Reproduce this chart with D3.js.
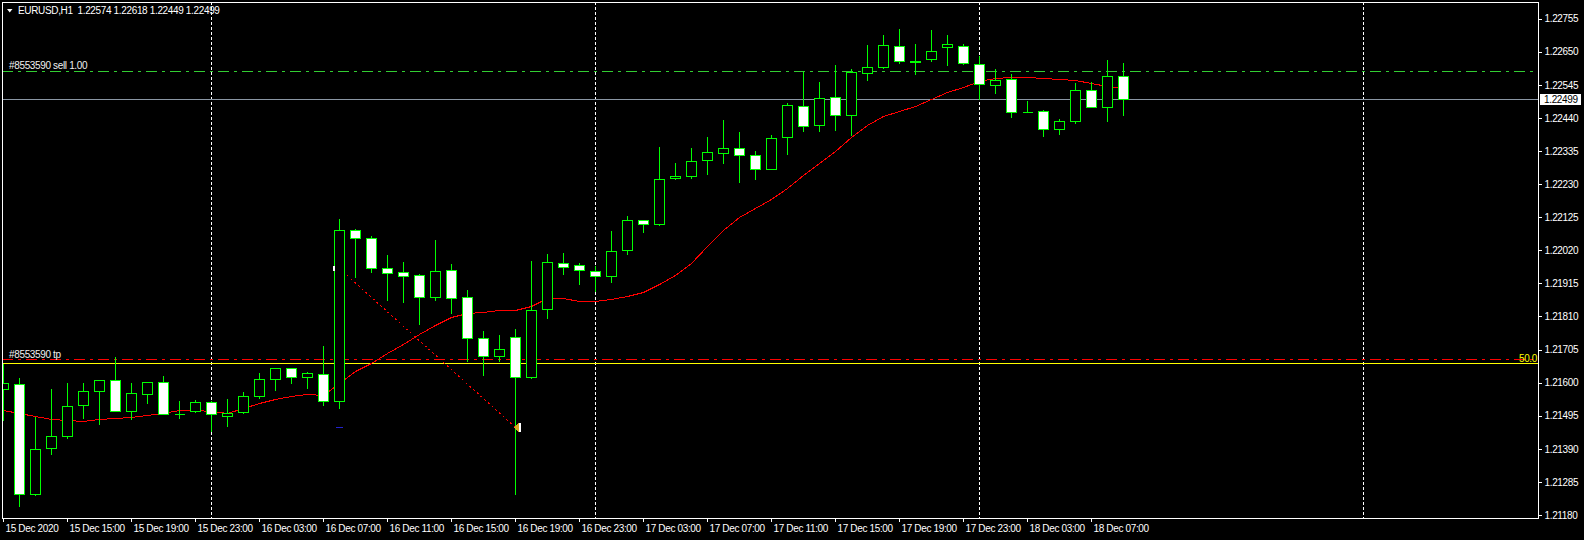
<!DOCTYPE html>
<html><head><meta charset="utf-8">
<script src="https://cdn.jsdelivr.net/npm/d3@7"></script>
<style>
html,body{margin:0;padding:0;background:#000;overflow:hidden;}
svg{display:block;}
text{font-family:"Liberation Sans",Arial,sans-serif;font-size:10px;letter-spacing:-0.35px;}
</style></head><body>
<svg id="c" width="1584" height="540"></svg>
<script>
// ---------- data ----------
const symbolTitle = "EURUSD,H1  1.22574 1.22618 1.22449 1.22499";
const startTime = new Date(2020, 11, 15, 11, 0);   // first visible bar
const opens  = [1.21581,1.21597,1.21247,1.21394,1.21431,1.21529,1.21574,1.21607,1.21511,1.21565,
                1.21603,1.21501,1.21511,1.21540,1.21494,1.21507,1.21558,1.21613,1.21645,1.21619,
                1.21626,1.21542,1.22085,1.22060,1.21965,1.21950,1.21942,1.21872,1.21958,1.21873,
                1.21743,1.21683,1.21746,1.21618,1.21835,1.21981,1.21974,1.21955,1.21939,1.22022,
                1.22117,1.22103,1.22249,1.22255,1.22307,1.22329,1.22345,1.22323,1.22279,1.22380,
                1.22478,1.22418,1.22507,1.22450,1.22583,1.22602,1.22668,1.22622,1.22627,1.22665,
                1.22668,1.22611,1.22545,1.22564,1.22460,1.22462,1.22405,1.22431,1.22529,1.22475,
                1.22574];
const highs  = [1.21662,1.21618,1.21495,1.21584,1.21603,1.21601,1.21611,1.21683,1.21603,1.21605,
                1.21623,1.21544,1.21547,1.21545,1.21550,1.21573,1.21634,1.21647,1.21649,1.21638,
                1.21718,1.22121,1.22092,1.22067,1.22007,1.21985,1.21947,1.22057,1.21981,1.21896,
                1.21766,1.21753,1.21775,1.21988,1.22013,1.22016,1.21982,1.21972,1.22086,1.22131,
                1.22120,1.22352,1.22299,1.22349,1.22384,1.22438,1.22400,1.22337,1.22390,1.22490,
                1.22589,1.22558,1.22612,1.22599,1.22676,1.22707,1.22726,1.22679,1.22723,1.22707,
                1.22679,1.22641,1.22599,1.22583,1.22498,1.22470,1.22440,1.22555,1.22558,1.22627,
                1.22618];
const lows   = [1.21482,1.21210,1.21245,1.21373,1.21424,1.21487,1.21468,1.21511,1.21486,1.21535,
                1.21502,1.21488,1.21508,1.21447,1.21463,1.21505,1.21550,1.21576,1.21600,1.21583,
                1.21529,1.21519,1.21935,1.21951,1.21862,1.21856,1.21785,1.21862,1.21820,1.21669,
                1.21624,1.21669,1.21247,1.21614,1.21805,1.21944,1.21912,1.21890,1.21919,1.22008,
                1.22078,1.22100,1.22245,1.22249,1.22261,1.22296,1.22236,1.22246,1.22279,1.22325,
                1.22398,1.22398,1.22401,1.22385,1.22559,1.22600,1.22616,1.22578,1.22620,1.22607,
                1.22610,1.22500,1.22518,1.22443,1.22460,1.22382,1.22388,1.22423,1.22475,1.22429,
                1.22449];
const closes = [1.21600,1.21247,1.21390,1.21432,1.21527,1.21572,1.21607,1.21511,1.21568,1.21603,
                1.21502,1.21499,1.21540,1.21499,1.21505,1.21559,1.21613,1.21645,1.21619,1.21630,
                1.21543,1.22085,1.22060,1.21965,1.21949,1.21938,1.21873,1.21955,1.21870,1.21743,
                1.21686,1.21708,1.21619,1.21832,1.21984,1.21967,1.21958,1.21939,1.22019,1.22117,
                1.22104,1.22247,1.22257,1.22304,1.22332,1.22346,1.22323,1.22279,1.22377,1.22481,
                1.22415,1.22504,1.22450,1.22586,1.22602,1.22672,1.22620,1.22619,1.22651,1.22675,
                1.22615,1.22548,1.22561,1.22459,1.22460,1.22405,1.22431,1.22529,1.22475,1.22573,
                1.22499];
const maValues = [1.21514,1.21503,1.21493,1.21484,1.21480,1.21479,1.21485,1.21488,1.21490,1.21496,
                  1.21505,1.21513,1.21513,1.21511,1.21505,1.21520,1.21535,1.21549,1.21558,1.21564,
                  1.21562,1.21600,1.21638,1.21662,1.21695,1.21724,1.21754,1.21784,1.21809,1.21820,
                  1.21825,1.21830,1.21832,1.21844,1.21868,1.21868,1.21860,1.21859,1.21865,1.21874,
                  1.21887,1.21912,1.21941,1.21981,1.22035,1.22084,1.22125,1.22154,1.22182,1.22219,
                  1.22260,1.22298,1.22336,1.22380,1.22419,1.22447,1.22461,1.22477,1.22500,1.22522,
                  1.22539,1.22557,1.22568,1.22571,1.22571,1.22567,1.22564,1.22559,1.22552,1.22542,
                  1.22536];
const priceTicks = [1.22755,1.22650,1.22545,1.22440,1.22335,1.22230,1.22125,1.22020,
                    1.21915,1.21810,1.21705,1.21600,1.21495,1.21390,1.21285,1.21180];
const timeTickLabels = ["15 Dec 2020","15 Dec 15:00","15 Dec 19:00","15 Dec 23:00","16 Dec 03:00",
                        "16 Dec 07:00","16 Dec 11:00","16 Dec 15:00","16 Dec 19:00","16 Dec 23:00",
                        "17 Dec 03:00","17 Dec 07:00","17 Dec 11:00","17 Dec 15:00","17 Dec 19:00",
                        "17 Dec 23:00","18 Dec 03:00","18 Dec 07:00"];
const daySeparators = [new Date(2020,11,16,0), new Date(2020,11,17,0), new Date(2020,11,18,0), new Date(2020,11,19,0)];
const sellLevel = 1.22590, sellLabel = "#8553590 sell 1.00";
const tpLevel = 1.21675, tpLabel = "#8553590 tp", tpText = "50.0";
const hLineLevel = 1.21662;
const bidPrice = 1.22499;
const tradeOpen = {bar: 21, price: 1.21965}, tradeClose = {bar: 32, price: 1.21460};

// ---------- layout ----------
const L = 2, T = 2, R = 1538, B = 518;
const svg = d3.select("#c");
svg.append("rect").attr("width",1584).attr("height",540).attr("fill","#000");
const times = opens.map((_, i) => d3.timeHour.offset(startTime, i));
const x = d3.scaleTime().domain([times[0], times[times.length-1]]).range([3, 3 + 16*(times.length-1)]);
const y = d3.scaleLinear().domain([1.21180, 1.22755]).range([515.0, 18.7]);
const X = t => Math.round(x(t)) + 0.5;
const Y = v => Math.round(y(v)) + 0.5;

svg.append("clipPath").attr("id","clip").append("rect")
  .attr("x",L+1).attr("y",T+1).attr("width",R-L-1).attr("height",B-T-1);
const g = svg.append("g").attr("clip-path","url(#clip)").attr("shape-rendering","crispEdges");

// day separators
g.selectAll("line.sep").data(daySeparators).join("line")
  .attr("x1",d=>X(d)).attr("x2",d=>X(d)).attr("y1",T).attr("y2",B)
  .attr("stroke","#fff").attr("stroke-dasharray","3,2");

// horizontal lines
g.append("line").attr("x1",L).attr("x2",R).attr("y1",Y(hLineLevel)).attr("y2",Y(hLineLevel)).attr("stroke","#ffff00");
g.append("line").attr("x1",L).attr("x2",R).attr("y1",Y(tpLevel)).attr("y2",Y(tpLevel))
  .attr("stroke","#ff0000").attr("stroke-dasharray","11,5,3,5");
g.append("line").attr("x1",L).attr("x2",R).attr("y1",Y(sellLevel)).attr("y2",Y(sellLevel))
  .attr("stroke","#32cd32").attr("stroke-dasharray","11,5,3,5");
g.append("line").attr("x1",L).attr("x2",R).attr("y1",Y(bidPrice)).attr("y2",Y(bidPrice)).attr("stroke","#8a96a4");

// trade history line
g.append("line")
  .attr("x1",X(times[tradeOpen.bar])).attr("y1",Y(tradeOpen.price))
  .attr("x2",X(times[tradeClose.bar])).attr("y2",Y(tradeClose.price))
  .attr("stroke","#ff0000").attr("stroke-dasharray","2,3");

// moving average
g.append("path").datum(maValues)
  .attr("d", d3.line().x((d,i)=>X(times[i])).y(d=>Y(d)))
  .attr("fill","none").attr("stroke","#ff0000");

// candles
const bars = opens.map((o,i)=>({t:times[i],o,h:highs[i],l:lows[i],c:closes[i]}));
const cg = g.selectAll("g.c").data(bars).join("g");
cg.append("line").attr("x1",d=>X(d.t)).attr("x2",d=>X(d.t))
  .attr("y1",d=>Y(d.h)).attr("y2",d=>Y(d.l)).attr("stroke","#00ff00");
cg.append("path").attr("d",d=>{
    const cx = X(d.t), top = Y(Math.max(d.o,d.c)), bot = Y(Math.min(d.o,d.c));
    return `M${cx-5},${top}H${cx+5}V${bot}H${cx-5}Z`;
  })
  .attr("fill",d=>d.c>d.o ? "#000" : "#fff").attr("stroke","#00ff00");

// trade arrows
g.append("rect").attr("x",X(times[tradeOpen.bar])-7).attr("y",Y(tradeOpen.price)-2.5).attr("width",2).attr("height",5).attr("fill","#fff");
g.append("line").attr("x1",X(times[tradeOpen.bar])-3.5).attr("x2",X(times[tradeOpen.bar])+3.5)
  .attr("y1",Y(tradeClose.price)).attr("y2",Y(tradeClose.price)).attr("stroke","#2222cc");
{
  const ax = X(times[tradeClose.bar]), ay = Y(tradeClose.price);
  g.append("path").attr("d",`M${ax-1},${ay}L${ax+3},${ay-4.5}L${ax+3},${ay+4.5}Z`).attr("fill","#daa520");
  g.append("rect").attr("x",ax+3).attr("y",ay-4.5).attr("width",2).attr("height",9).attr("fill","#fff");
}

// order labels
svg.append("text").attr("x",9).attr("y",Y(sellLevel)-2.5).attr("fill","#f0f0f0").text(sellLabel);
svg.append("text").attr("x",9).attr("y",Y(tpLevel)-2).attr("fill","#f0f0f0").text(tpLabel);
svg.append("text").attr("x",R-1).attr("y",Y(tpLevel)+2.5).attr("text-anchor","end").attr("fill","#ffff00").text(tpText);

// frame
svg.append("rect").attr("x",L+0.5).attr("y",T+0.5).attr("width",R-L).attr("height",B-T)
  .attr("fill","none").attr("stroke","#fff").attr("shape-rendering","crispEdges");

// price axis
const ay = svg.append("g").attr("transform",`translate(${R+0.5},0)`)
  .call(d3.axisRight(y).tickValues(priceTicks).tickSize(3).tickPadding(3).tickFormat(d3.format(".5f")));
ay.select(".domain").remove();
ay.selectAll("line").attr("stroke","#fff").attr("shape-rendering","crispEdges");
ay.selectAll("text").attr("fill","#fff").attr("font-family",null).attr("font-size",null);

// time axis
const tickTimes = timeTickLabels.map((_,k)=>times[k*4]);
const ax = svg.append("g").attr("transform",`translate(0,${B+0.5})`)
  .call(d3.axisBottom(x).tickValues(tickTimes).tickSize(3).tickPadding(3).tickFormat((d,k)=>timeTickLabels[k]));
ax.select(".domain").remove();
ax.selectAll("line").attr("stroke","#fff").attr("shape-rendering","crispEdges");
ax.selectAll("text").attr("fill","#fff").attr("text-anchor","start").attr("x",2).attr("font-family",null).attr("font-size",null);

// bid price box
svg.append("rect").attr("x",1540).attr("y",Y(bidPrice)-5.5).attr("width",41).attr("height",11).attr("fill","#fff");
svg.append("text").attr("x",1544).attr("y",Y(bidPrice)+3.5).attr("fill","#000").text(d3.format(".5f")(bidPrice));

// title
svg.append("path").attr("d","M7,9H12.5L9.75,12.5Z").attr("fill","#fff");
svg.append("text").attr("x",18).attr("y",14).attr("fill","#fff").attr("xml:space","preserve")
  .style("white-space","pre").text(symbolTitle);
</script>
</body></html>
